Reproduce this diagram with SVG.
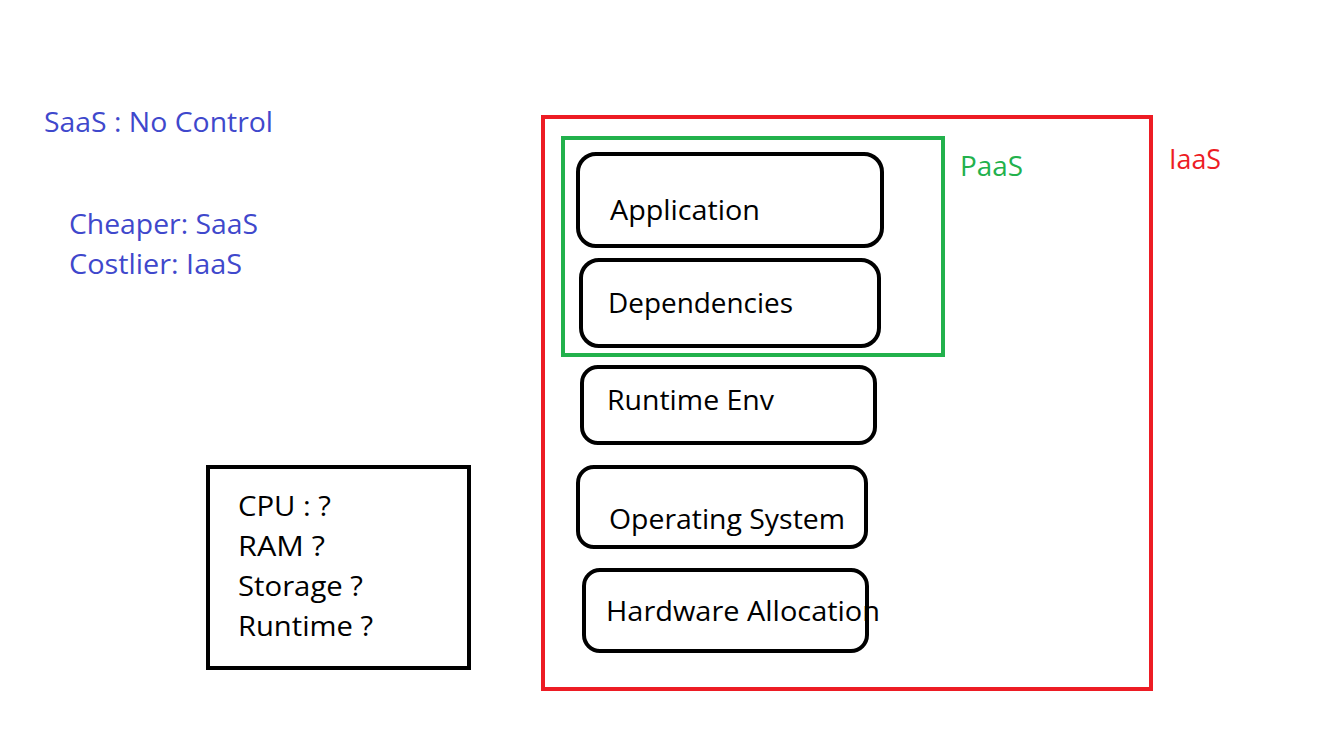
<svg xmlns="http://www.w3.org/2000/svg" width="1327" height="748" viewBox="0 0 1327 748">
<style>
text{font-family:"Open Sans","Noto Sans","DejaVu Sans",sans-serif;font-size:27px}
.blue{fill:#3F48CC}
.blk{fill:#000}
.layer{fill:#fff;stroke:#000;stroke-width:4}
</style>
<rect width="1327" height="748" fill="#fff"/>
<g id="notes">
<text class="blue" x="44" y="132" textLength="229" lengthAdjust="spacingAndGlyphs">SaaS : No Control</text>
<text class="blue" x="69" y="234" textLength="189" lengthAdjust="spacingAndGlyphs">Cheaper: SaaS</text>
<text class="blue" x="69" y="274" textLength="173" lengthAdjust="spacingAndGlyphs">Costlier: IaaS</text>
</g>
<g id="iaas">
<rect x="543" y="117" width="608" height="572" fill="none" stroke="#ED1C24" stroke-width="4"/>
<text x="1169" y="169" fill="#ED1C24" textLength="52" lengthAdjust="spacingAndGlyphs">IaaS</text>
</g>
<g id="paas">
<rect x="563" y="138" width="380" height="217" fill="none" stroke="#22B14C" stroke-width="4"/>
<text x="960" y="176" fill="#22B14C" textLength="63" lengthAdjust="spacingAndGlyphs">PaaS</text>
</g>
<g id="application">
<rect class="layer" x="578" y="154" width="304" height="92" rx="18"/>
<text class="blk" x="610" y="220" textLength="150" lengthAdjust="spacingAndGlyphs">Application</text>
</g>
<g id="dependencies">
<rect class="layer" x="581" y="260" width="298" height="86" rx="18"/>
<text class="blk" x="608" y="313" textLength="185" lengthAdjust="spacingAndGlyphs">Dependencies</text>
</g>
<g id="runtime-env">
<rect class="layer" x="582" y="367" width="293" height="76" rx="16"/>
<text class="blk" x="607" y="410" textLength="167" lengthAdjust="spacingAndGlyphs">Runtime Env</text>
</g>
<g id="operating-system">
<rect class="layer" x="578" y="467" width="288" height="80" rx="16"/>
<text class="blk" x="609" y="529" textLength="236" lengthAdjust="spacingAndGlyphs">Operating System</text>
</g>
<g id="hardware-allocation">
<rect class="layer" x="584" y="570" width="283" height="81" rx="16"/>
<text class="blk" x="606" y="621" textLength="274" lengthAdjust="spacingAndGlyphs">Hardware Allocation</text>
</g>
<g id="resources">
<rect x="208" y="467" width="261" height="201" fill="#fff" stroke="#000" stroke-width="4"/>
<text class="blk" x="238" y="516" textLength="93" lengthAdjust="spacingAndGlyphs">CPU : ?</text>
<text class="blk" x="238" y="556" textLength="87" lengthAdjust="spacingAndGlyphs">RAM ?</text>
<text class="blk" x="238" y="596" textLength="125" lengthAdjust="spacingAndGlyphs">Storage ?</text>
<text class="blk" x="238" y="636" textLength="135" lengthAdjust="spacingAndGlyphs">Runtime ?</text>
</g>
<g id="connectors"/>
</svg>
